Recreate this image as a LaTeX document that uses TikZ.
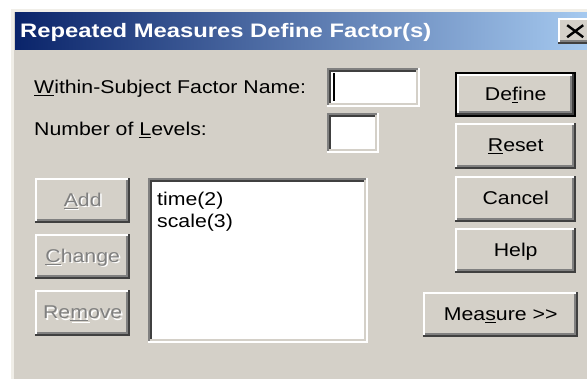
\documentclass[tikz,border=0pt]{standalone}
\usepackage{fontspec}
\newfontfamily\uifontfam[FakeStretch=1.15]{Liberation Sans}
\newfontfamily\titlefontfam[FakeStretch=1.22]{Liberation Sans}
\newcommand\ui{\uifontfam\fontsize{18.5pt}{22pt}\selectfont}
\newcommand\titlef{\titlefontfam\bfseries\fontsize{19.5pt}{22pt}\selectfont}
\definecolor{bg}{RGB}{212,208,200}
\definecolor{sh}{RGB}{128,128,128}
\definecolor{dk}{RGB}{64,64,64}
\definecolor{navy}{RGB}{10,36,106}
\definecolor{lblue}{RGB}{166,202,240}
\definecolor{edge}{RGB}{240,238,232}
\newcommand\dis[1]{\makebox[0pt][l]{\hspace{1.5pt}\raisebox{-1.5pt}{\textcolor{white}{#1}}}\textcolor{sh}{#1}}
\tikzset{
  widget/.style={inner sep=0pt, font=\ui, text height=15pt, text depth=3.5pt},
  raised/.style={widget, path picture={
    \path (path picture bounding box.north west) coordinate (nw)
          (path picture bounding box.south east) coordinate (se);
    \fill[dk] (nw) rectangle (se);
    \fill[white] (nw) rectangle ([shift={(-2pt,2pt)}]se);
    \fill[sh] ([shift={(2pt,-2pt)}]nw) rectangle ([shift={(-2pt,2pt)}]se);
    \fill[bg] ([shift={(2pt,-2pt)}]nw) rectangle ([shift={(-4pt,4pt)}]se);
  }},
  defbtn/.style={widget, path picture={
    \path (path picture bounding box.north west) coordinate (nw)
          (path picture bounding box.south east) coordinate (se);
    \fill[black] (nw) rectangle (se);
    \fill[dk] ([shift={(2pt,-2pt)}]nw) rectangle ([shift={(-2pt,2pt)}]se);
    \fill[white] ([shift={(2pt,-2pt)}]nw) rectangle ([shift={(-4pt,4pt)}]se);
    \fill[sh] ([shift={(4pt,-4pt)}]nw) rectangle ([shift={(-4pt,4pt)}]se);
    \fill[bg] ([shift={(4pt,-4pt)}]nw) rectangle ([shift={(-6pt,6pt)}]se);
  }},
  sunken/.style={widget, path picture={
    \path (path picture bounding box.north west) coordinate (nw)
          (path picture bounding box.south east) coordinate (se);
    \fill[white] (nw) rectangle (se);
    \fill[sh] (nw) rectangle ([shift={(-2pt,2pt)}]se);
    \fill[bg] ([shift={(2pt,-2pt)}]nw) rectangle ([shift={(-2pt,2pt)}]se);
    \fill[dk] ([shift={(2pt,-2pt)}]nw) rectangle ([shift={(-4pt,4pt)}]se);
    \fill[white] ([shift={(4pt,-4pt)}]nw) rectangle ([shift={(-4pt,4pt)}]se);
  }},
  lbl/.style={inner sep=0pt, font=\ui, anchor=base west},
}
\begin{document}
\begin{tikzpicture}[x=1pt,y=-1pt]
\useasboundingbox (0,0) rectangle (587,379);
\fill[white] (0,0) rectangle (587,379);
\fill[edge] (11,9) rectangle (590,382);
\fill[bg] (14,12) rectangle (590,382);
\shade[left color=navy,right color=lblue] (15,13) rectangle (590,50);
\node[inner sep=0pt, anchor=base west, text=white, font=\titlef] (title) at (20,38) {Repeated Measures Define Factor(s)};
\node[raised, anchor=north west, minimum width=34pt, minimum height=26pt] (close) at (558,18) {};
\draw[line width=2.4pt] ([shift={(-8pt,6pt)}]close.center) -- ([shift={(8pt,-6pt)}]close.center);
\draw[line width=2.4pt] ([shift={(-8pt,-6pt)}]close.center) -- ([shift={(8pt,6pt)}]close.center);

\node[lbl] (namelbl) at (34,94) {\underline{W}ithin-Subject Factor Name:};
\node[lbl] (levlbl) at (34,136) {Number of \underline{L}evels:};

\node[sunken, anchor=north west, minimum width=93pt, minimum height=39pt] (namebox) at (327,68) {};
\draw[line width=2pt] ([shift={(7pt,-5pt)}]namebox.north west) -- ([shift={(7pt,6pt)}]namebox.south west);
\node[sunken, anchor=north west, minimum width=52pt, minimum height=40pt] (levbox) at (327,113) {};

\node[defbtn, anchor=north west, minimum width=121pt, minimum height=45pt] (define) at (455,72) {De\underline{f}ine};
\node[raised, anchor=north west, minimum width=121pt, minimum height=46pt] (reset) at (455,123) {\underline{R}eset};
\node[raised, anchor=north west, minimum width=121pt, minimum height=46pt] (cancel) at (455,176) {Cancel};
\node[raised, anchor=north west, minimum width=121pt, minimum height=45pt] (help) at (455,228) {Help};
\node[raised, anchor=north west, minimum width=155pt, minimum height=45pt] (measure) at (423,292) {Mea\underline{s}ure >>};

\node[raised, anchor=north west, minimum width=95pt, minimum height=45pt] (add) at (35,178) {\dis{\underline{A}dd}};
\node[raised, anchor=north west, minimum width=95pt, minimum height=45pt] (change) at (35,234) {\dis{\underline{C}hange}};
\node[raised, anchor=north west, minimum width=95pt, minimum height=46pt] (remove) at (35,290) {\dis{Re\underline{m}ove}};

\node[sunken, anchor=north west, minimum width=220pt, minimum height=165pt] (list) at (148,178) {};
\node[lbl] (item1) at (157,206) {time(2)};
\node[lbl] (item2) at (157,228) {scale(3)};
\end{tikzpicture}
\end{document}
